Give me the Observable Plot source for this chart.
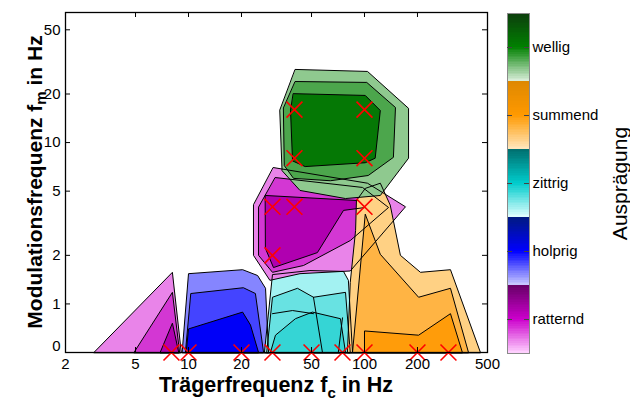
<!DOCTYPE html>
<html><head><meta charset="utf-8">
<script src="https://cdn.jsdelivr.net/npm/d3@7"></script>
<script src="https://cdn.jsdelivr.net/npm/@observablehq/plot@0.6"></script>
<style>
body{margin:0;background:#fff;}
#wrap{position:relative;width:630px;height:403px;}
#wrap svg{position:absolute;left:0;top:0;}
</style></head><body><div id="wrap"></div>
<script>
// ---- data ----
const categories = ["wellig", "summend", "zittrig", "holprig", "ratternd"]; // colorbar order, top to bottom
const xTicks = [2, 5, 10, 20, 50, 100, 200, 500];
const yTicks = [0, 1, 2, 5, 10, 20, 50];

// contour polygons as [fc (Hz), fm (Hz)] ; level 0 = outer (light) ... level 2 = inner (dark)
const ratterndLow = [
  [[2.9,0],[8.1,1.57],[9.1,0]],
  [[4.9,0],[8.1,1.18],[8.9,0]],
  [[6.9,0],[8.1,0.76],[8.8,0]]
];
const ratterndHigh = [
  [[30.4,7.0],[104,5.6],[171,4.0],[83,1.6],[43,1.54],[29,1.4],[23.4,2.0],[23.4,4.1]],
  [[31.2,6.07],[97.5,5.27],[137,3.96],[83,2.47],[45,1.73],[30,1.57],[25,2.0],[25,3.96]],
  [[27.4,4.7],[92.5,4.37],[101,3.96],[76,3.8],[54,2.08],[30.4,1.68],[27.4,2.2]]
];
const holprig = [
  [[9.2,0],[10,1.54],[20.3,1.63],[24.7,1.5],[27.4,1.25],[28.5,0]],
  [[9.6,0],[10.3,1.16],[20.5,1.26],[24,1.16],[26.7,0]],
  [[9.7,0],[10,0.70],[20.3,0.89],[22.5,0.74],[25,0]]
];
const zittrig = [
  [[27,0],[30,1.52],[49,1.61],[76,1.59],[81,1.4],[85.5,0]],
  [[27.8,0],[30,1.1],[41.6,1.25],[51.3,1.1],[78,1.18],[83,0]],
  [[29.2,0],[31.2,0.64],[40.5,0.81],[50.6,0.89],[73,0.81],[78,0]]
];
// extra open contour lines inside the "zittrig" area
const zittrigLines = [
  [[51.3,1.1],[57.7,0]],
  [[75,0.82],[71,0]],
  [[30,0.87],[39,0.91],[51.3,0.87]]
];
const summend = [
  [[80,0],[83,1.36],[89,2.85],[90,4.37],[101,5.2],[123,5.6],[140,4.1],[160,2.0],[208,1.57],[308,1.63],[456,0]],
  [[85.5,0],[101,3.6],[123,2.03],[203,1.1],[308,1.25],[390,0]],
  [[100,0],[100,0.68],[203,0.64],[308,0.87],[360,0]]
];
const wellig = [
  [[40.5,28.4],[104,27.6],[178,16.3],[178,8.0],[123,4.7],[78,4.5],[43,5.05],[34,6.7],[33,15.8]],
  [[40.5,23.9],[103,23.6],[150,16.5],[146,8.1],[105,6.25],[64,5.8],[39.5,6.0],[35,7.2],[34.6,16.3]],
  [[39.5,20.1],[101,19.6],[123,15.8],[115,8.0],[101,7.5],[46,7.1],[39,7.7],[38,15.8]]
];
const markerFc = [40, 100, 40, 100, 30, 40, 100, 30, 8, 10, 20, 30, 50, 75, 100, 200, 300];
const markerFm = [16, 16, 8, 8, 4, 4, 4, 2, 0, 0, 0, 0, 0, 0, 0, 0, 0];

// ---- styles ----
const fillColors = {
  ratternd: ["#e984e9", "#d337d3", "#b000b0"],
  holprig:  ["#8585ff", "#4444ff", "#0000f8"],
  zittrig:  ["#a3f2f2", "#68e2e2", "#35d5d5"],
  summend:  ["#ffd184", "#ffb444", "#ff9c0a"],
  wellig:   ["#8fc98f", "#4ca64c", "#057805"]
};
const barStops = {
  wellig:   ["#0d3d0d", "#008000", "#dcefdc"],
  summend:  ["#de8800", "#ff9900", "#ffe8c0"],
  zittrig:  ["#006e6e", "#00cccc", "#e4ffff"],
  holprig:  ["#001a80", "#0000ff", "#ccccff"],
  ratternd: ["#660066", "#cc00cc", "#ffd4ff"]
};

const fy = v => (v === 0 ? 0.5 : v); // "0" is drawn one octave below 1
const font = "Liberation Sans, Arial, sans-serif";

const layers = [
  ["ratternd", ratterndLow], ["holprig", holprig], ["zittrig", zittrig],
  ["ratternd", ratterndHigh], ["summend", summend], ["wellig", wellig]
];
const fillMarks = [], strokeMarks = [];
for (const [cat, levels] of layers) {
  levels.forEach((poly, lvl) => {
    fillMarks.push(Plot.line(poly, {x: d => d[0], y: d => fy(d[1]), curve: "linear-closed", fill: fillColors[cat][lvl], stroke: "none"}));
    strokeMarks.push(Plot.line(poly, {x: d => d[0], y: d => fy(d[1]), curve: "linear-closed", fill: "none", stroke: "black", strokeWidth: 1}));
  });
}
for (const ln of zittrigLines) {
  strokeMarks.push(Plot.line(ln, {x: d => d[0], y: d => fy(d[1]), stroke: "black", strokeWidth: 1}));
}
const markers = markerFc.map((fc, i) => ({fc, fm: fy(markerFm[i])}));

const main = Plot.plot({
  width: 630, height: 403,
  marginLeft: 65, marginRight: 143, marginTop: 12, marginBottom: 51,
  style: {fontFamily: font, fontSize: "15px", color: "black", background: "white"},
  x: {type: "log", domain: [2, 500], axis: null},
  y: {type: "log", base: 2, domain: [0.5, 64]},
  marks: [
    ...fillMarks,
    ...strokeMarks,
    Plot.dot(markers, {x: "fc", y: "fm", symbol: "times", r: 7.3, stroke: "#ff0000", strokeWidth: 1.6}),
    Plot.frame({stroke: "black", strokeWidth: 1.3}),
    Plot.tickX(xTicks, {x: d => d, insetTop: 335, stroke: "black"}),
    Plot.tickX(xTicks, {x: d => d, insetBottom: 335, stroke: "black"}),
    Plot.tickY(yTicks.map(fy), {y: d => d, insetRight: 417, stroke: "black"}),
    Plot.tickY(yTicks.map(fy), {y: d => d, insetLeft: 417, stroke: "black"}),
    Plot.text(xTicks, {x: d => d, frameAnchor: "bottom", lineAnchor: "top", dy: 6, text: d => String(d), fontSize: 15, fill: "black"}),
    Plot.axisY({ticks: yTicks.filter(v => v > 0), tickSize: 0, tickPadding: 5, tickFormat: d => String(d), label: null, fontSize: 15}),
    Plot.axisY({ticks: [fy(0)], tickSize: 0, tickPadding: 5, tickFormat: () => "0", dy: -6, label: null, fontSize: 15})
  ]
});

// axis titles with subscripts
const s = d3.select(main);
const xl = s.append("text").attr("x", 276).attr("y", 392).attr("text-anchor", "middle")
  .attr("font-family", font).attr("font-size", 21.5).attr("font-weight", "bold").attr("fill", "black");
xl.append("tspan").text("Trägerfrequenz f");
xl.append("tspan").attr("font-size", 15).attr("dy", 6).text("c");
xl.append("tspan").attr("dy", -6).text(" in Hz");
const yl = s.append("text").attr("transform", "translate(42,182) rotate(-90)").attr("text-anchor", "middle")
  .attr("font-family", font).attr("font-size", 21).attr("font-weight", "bold").attr("fill", "black");
yl.append("tspan").text("Modulationsfrequenz f");
yl.append("tspan").attr("font-size", 15).attr("dy", 4).text("m");
yl.append("tspan").attr("dy", -4).text(" in Hz");

// colorbar
const N = 40;
const barRows = [];
categories.forEach((c, i) => {
  const interp = d3.piecewise(d3.interpolateRgb, barStops[c]);
  for (let j = 0; j < N; j++) barRows.push({y1: i + j / N, y2: i + (j + 1) / N + 0.01, color: interp((j + 0.5) / N)});
});
const bar = Plot.plot({
  width: 630, height: 403,
  marginLeft: 507, marginRight: 101, marginTop: 13, marginBottom: 50,
  style: {fontFamily: font, fontSize: "15px", color: "black", background: "transparent"},
  x: {domain: [0, 1], axis: null},
  y: {domain: [0, 5], reverse: true, axis: null},
  color: {type: "identity"},
  marks: [
    Plot.rect(barRows, {x1: 0, x2: 1, y1: "y1", y2: "y2", fill: "color", shapeRendering: "crispEdges"}),
    Plot.frame({stroke: "#8a8a8a"}),
    Plot.tickY(categories.map((c, i) => i + 0.5), {y: d => d, insetRight: 17, stroke: "#444"}),
    Plot.tickY(categories.map((c, i) => i + 0.5), {y: d => d, insetLeft: 17, stroke: "#444"}),
    Plot.text(categories, {x: 1, y: (d, i) => i + 0.5, text: d => d, textAnchor: "start", dx: 3, fontSize: 15}),
    Plot.text(["Ausprägung"], {frameAnchor: "middle", dx: 102, rotate: -90, fontSize: 21})
  ]
});

const wrap = document.getElementById("wrap");
wrap.appendChild(main);
wrap.appendChild(bar);
</script>
</body></html>
